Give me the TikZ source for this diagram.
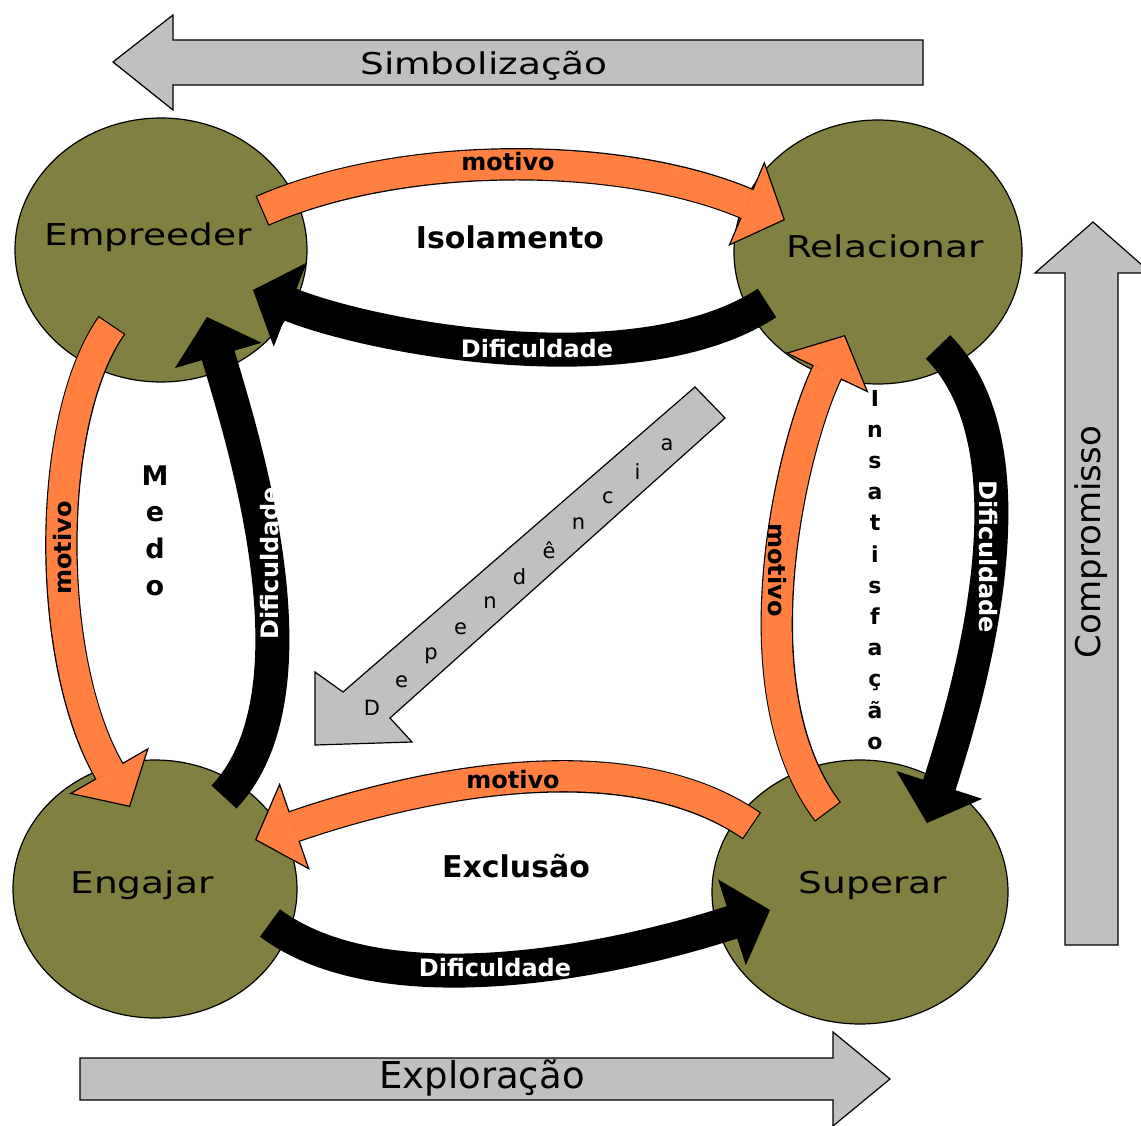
\documentclass[tikz,border=0pt]{standalone}
\usepackage{fontspec}
\setmainfont{DejaVu Sans}
\newfontfamily\largo[FakeStretch=1.25]{DejaVu Sans}
\usetikzlibrary{arrows.meta,calc,shapes.geometric}
\definecolor{oliva}{RGB}{128,128,64}
\definecolor{laranja}{RGB}{255,128,64}
\definecolor{cinza}{RGB}{192,192,192}

\tikzset{
  esfera/.style={ellipse, draw=black, line width=1.2pt, fill=oliva, inner sep=0pt},
  nome/.style={anchor=base, font=\largo\fontsize{30}{30}\selectfont},
  seta/.style={draw=black, line width=1.2pt, fill=cinza},
  motivobord/.style={draw=black, line width=32.4pt,
    -{Triangle[length=42pt,width=92pt,line width=1.2pt,fill=laranja,color=black]}},
  motivo/.style={draw=laranja, line width=30pt, shorten <=1.2pt, shorten >=40.5pt},
  dific/.style={draw=black, line width=34pt,
    -{Triangle[length=40pt,width=90pt,line width=1pt]}},
  rotulo/.style={font=\bfseries\fontsize{24}{24}\selectfont},
  zona/.style={font=\bfseries\fontsize{30}{30}\selectfont},
}

\begin{document}
\begin{tikzpicture}[x=1pt,y=-1pt]
\useasboundingbox (0,0) rectangle (1141,1126);
\clip (0,0) rectangle (1141,1126);
\fill [white] (0,0) rectangle (1141,1126);

%setas cinzas
\draw [seta] (113,62) -- (173,15) -- (173,40) -- (923,40) -- (923,85) -- (173,85) -- (173,110) -- cycle;
\path (484,75) node (simb) [anchor=base, font=\largo\fontsize{30}{30}\selectfont] {Simbolização};

\draw [seta] (1093,222) -- (1151,273) -- (1118,273) -- (1118,945) -- (1065,945) -- (1065,273) -- (1035,273) -- cycle;
\path (1091,542) node (comp) [rotate=90, font=\fontsize{34}{34}\selectfont] {Compromisso};

\draw [seta] (890,1079) -- (833,1032) -- (833,1058) -- (80,1058) -- (80,1100) -- (833,1100) -- (833,1126) -- cycle;
\path (482,1088) node (expl) [anchor=base, font=\fontsize{37}{37}\selectfont] {Exploração};

%circulos
\path (161,250) node (emp) [esfera, minimum width=292pt, minimum height=264pt] {};
\path (878,252) node (rel) [esfera, minimum width=288pt, minimum height=264pt] {};
\path (155,889) node (eng) [esfera, minimum width=284pt, minimum height=258pt] {};
\path (860,892) node (sup) [esfera, minimum width=296pt, minimum height=264pt] {};

%dependencia
\draw [seta] (315,745) -- (315,672) -- (343,692) -- (695,387) -- (725,418) -- (390,718) -- (412,742) -- cycle;
\coordinate (dep0) at (372,708);
\coordinate (dep1) at (667,445);
\foreach \c [count=\i from 0] in {D,e,p,e,n,d,ê,n,c,i,a}
   {\path ($(dep0)!{\i/10}!(dep1)$) node (dep-\i) [font=\fontsize{21}{21}\selectfont] {\c};
   }

%motivo
\foreach \s in {motivobord,motivo}
   {\draw [\s] ($(emp)+(101,-39)$) .. controls +(138,-61) and +(-165,-70) .. ($(rel)+(-93,-32)$);
    \draw [\s] ($(emp)+(-49,75)$) .. controls +(-67,95) and +(-85,-147) .. ($(eng)+(-25,-82)$);
    \draw [\s] ($(sup)+(-32,-80)$) .. controls +(-93,-122) and +(-55,115) .. ($(rel)+(-33,83)$);
    \draw [\s] ($(sup)+(-108,-66)$) .. controls +(-132,-91) and +(145,-50) .. ($(eng)+(100,-49)$);
   }

%dificuldade
\draw [dific] ($(rel)+(-111,51)$) .. controls +(-127,83) and +(127,50) .. ($(emp)+(92,40)$);
\draw [dific] ($(eng)+(69,-92)$) .. controls +(101,-107) and +(33,113) .. ($(emp)+(46,67)$);
\draw [dific] ($(rel)+(60,95)$) .. controls +(102,103) and +(43,-133) .. ($(sup)+(67,-69)$);
\draw [dific] ($(eng)+(115,34)$) .. controls +(110,82) and +(-170,55) .. ($(sup)+(-90,18)$);

%rotulos das setas
\path (508,162) node (mot-a) [rotulo] {motivo};
\path (63,548) node (mot-b) [rotulo, rotate=90] {motivo};
\path (777,570) node (mot-c) [rotulo, rotate=-90] {motivo};
\path (513,780) node (mot-d) [rotulo] {motivo};
\path (537,349) node (dif-a) [rotulo, text=white] {Dificuldade};
\path (270,563) node (dif-b) [rotulo, text=white, rotate=90] {Dificuldade};
\path (988,557) node (dif-c) [rotulo, text=white, rotate=-90] {Dificuldade};
\path (495,968) node (dif-d) [rotulo, text=white] {Dificuldade};

%nomes
\path (148,246) node (emp-t) [nome] {Empreeder};
\path (885,258) node (rel-t) [nome] {Relacionar};
\path (142,893) node (eng-t) [nome] {Engajar};
\path (873,893) node (sup-t) [nome] {Superar};

%zonas
\path (510,237) node (isol) [zona] {Isolamento};
\path (516,877) node (excl) [zona, anchor=base] {Exclusão};
\foreach \c [count=\i from 0] in {M,e,d,o}
   {\path (155,{485+36.7*\i}) node (medo-\i) [anchor=base, font=\bfseries\fontsize{27}{27}\selectfont] {\c};
   }
\foreach \c [count=\i from 0] in {I,n,s,a,t,i,s,f,a,ç,ã,o}
   {\path (875,{406+31.2*\i}) node (ins-\i) [anchor=base, font=\bfseries\fontsize{22}{22}\selectfont] {\c};
   }

\end{tikzpicture}
\end{document}
